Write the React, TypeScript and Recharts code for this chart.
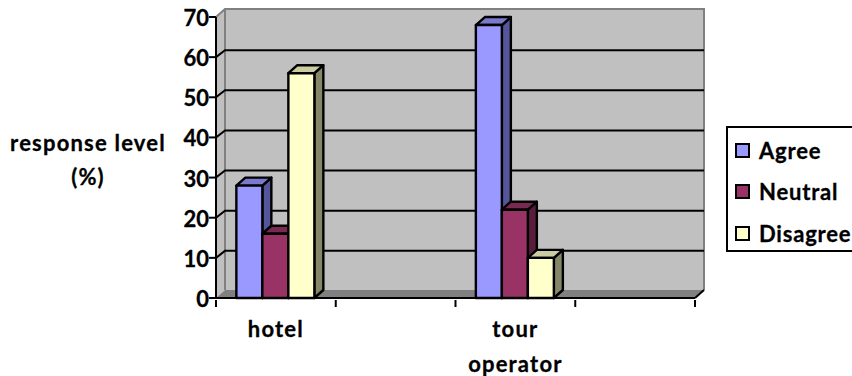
import React from "react";
import { BarChart, Bar, XAxis, YAxis, CartesianGrid, Legend, Label } from "recharts";

const categories = ["hotel", "", "tour operator", " "];
const agree = [28, null, 68, null];
const neutral = [16, null, 22, null];
const disagree = [56, null, 10, null];
const yTicks = [0, 10, 20, 30, 40, 50, 60, 70];

const rows = categories.map((name, i) => ({
  name,
  Agree: agree[i],
  Neutral: neutral[i],
  Disagree: disagree[i],
}));

const FONT = "Lato, 'Open Sans', sans-serif";
const DEPTH = 8;
const SIDE = 9;
const BLACK_LINE = { stroke: "#000", strokeWidth: 2 };

const palette: Record<string, { front: string; top: string; side: string }> = {
  Agree: { front: "#9999ff", top: "#7a7acc", side: "#555599" },
  Neutral: { front: "#993366", top: "#7a2952", side: "#571d3a" },
  Disagree: { front: "#ffffcc", top: "#cccca3", side: "#868668" },
};

// Extruded column: front face, top face and right side face.
function Column3D(props: any) {
  const { x, y, width, height, dataKey } = props;
  if (!height || height <= 0) return null;
  const c = palette[dataKey];
  const common = { stroke: "#000", strokeWidth: 2.4, strokeLinejoin: "round" as const };
  return (
    <g>
      <polygon {...common} fill={c.side} points={`${x + width},${y} ${x + width + SIDE},${y - DEPTH} ${x + width + SIDE},${y + height - DEPTH} ${x + width},${y + height}`} />
      <polygon {...common} fill={c.top} points={`${x},${y} ${x + SIDE},${y - DEPTH} ${x + width + SIDE},${y - DEPTH} ${x + width},${y}`} />
      <rect {...common} fill={c.front} x={x} y={y} width={width} height={height} />
    </g>
  );
}

// Back wall, side wall and floor of the 3D chart box.
function Walls({ x, y, width, height }: any) {
  const b = y + height;
  const r = x + width;
  return (
    <g>
      <polygon fill="#c0c0c0" points={`${x},${y} ${x + SIDE},${y - DEPTH} ${r + SIDE},${y - DEPTH} ${r + SIDE},${b - DEPTH} ${x + SIDE},${b - DEPTH} ${x},${b}`} />
      <polygon fill="#808080" points={`${x},${b} ${x + SIDE},${b - DEPTH} ${r + SIDE},${b - DEPTH} ${r},${b}`} />
      <polyline fill="none" stroke="#808080" strokeWidth={2} points={`${x},${y} ${x + SIDE},${y - DEPTH} ${r + SIDE},${y - DEPTH} ${r + SIDE},${b - DEPTH}`} />
      <line x1={x + SIDE} y1={y - DEPTH} x2={x + SIDE} y2={b - DEPTH} stroke="#808080" strokeWidth={2} />
      <line x1={r} y1={b} x2={r + SIDE} y2={b - DEPTH} {...BLACK_LINE} />
    </g>
  );
}

// Grid line running along the side wall and across the back wall; the walls go
// underneath the first one so every line stays above them.
function GridLine(props: any) {
  const { x1, x2, y1, index, x, y, width, height } = props;
  const atEdge = Math.abs(y1 - y) < 1 || Math.abs(y1 - (y + height)) < 1;
  return (
    <g>
      {index === 0 && <Walls x={x} y={y} width={width} height={height} />}
      {!atEdge && (
        <polyline fill="none" {...BLACK_LINE} points={`${x1},${y1} ${x1 + SIDE},${y1 - DEPTH + 1} ${x2 + SIDE},${y1 - DEPTH + 1}`} />
      )}
    </g>
  );
}

function CategoryTick(props: any) {
  const { x, y, payload, index, visibleTicksCount } = props;
  const lines = String(payload.value).trim().split(" ").filter(Boolean);
  const half = payload.offset ?? 0;
  const axisY = y - 7;
  return (
    <g>
      <line x1={x - half} x2={x - half} y1={axisY} y2={axisY + 7} {...BLACK_LINE} />
      {index === visibleTicksCount - 1 && (
        <line x1={x + half} x2={x + half} y1={axisY} y2={axisY + 7} {...BLACK_LINE} />
      )}
      <text fontFamily={FONT} fontWeight={700} fontSize={22} letterSpacing={1.2} fill="#000" stroke="#000" strokeWidth={0.3} textAnchor="middle">
        {lines.map((line, i) => (
          <tspan key={line} x={x} y={y + 30 + i * 35}>{line}</tspan>
        ))}
      </text>
    </g>
  );
}

function ValueTick({ x, y, payload }: any) {
  return (
    <text x={x} y={y + 9} fontFamily={FONT} fontWeight={700} fontSize={22} fill="#000" stroke="#000" strokeWidth={0.3} textAnchor="end">
      {payload.value}
    </text>
  );
}

function AxisTitle() {
  return (
    <text fontFamily={FONT} fontWeight={700} fontSize={22} letterSpacing={1.2} fill="#000" stroke="#000" strokeWidth={0.3} textAnchor="middle">
      <tspan x={88} y={151}>response level</tspan>
      <tspan x={88} y={185}>(%)</tspan>
    </text>
  );
}

function LegendBox({ payload }: any) {
  return (
    <div style={{ boxSizing: "border-box", width: 128, height: 126, border: "2px solid #000", background: "#fff", position: "relative", fontFamily: FONT, fontWeight: 700, fontSize: 22, letterSpacing: 0.8, color: "#000", WebkitTextStroke: "0.3px #000" }}>
      {(payload || []).map((item: any, i: number) => (
        <div key={item.value} style={{ position: "absolute", left: 7, top: 12 + i * 41.5, height: 20, display: "flex", alignItems: "center", whiteSpace: "nowrap" }}>
          <span style={{ boxSizing: "border-box", width: 15, height: 15, border: "2px solid #000", background: palette[item.value].front, marginRight: 9 }} />
          <span>{item.value}</span>
        </div>
      ))}
    </div>
  );
}

export default function App() {
  return (
    <div style={{ position: "absolute", left: 0, top: 0, width: 852, height: 376, overflow: "hidden", background: "#fff" }}>
      <BarChart
        width={852}
        height={376}
        data={rows}
        barGap={0}
        barCategoryGap="17%"
        margin={{ left: 116, right: 29, top: 17, bottom: 48 }}
      >
        <CartesianGrid vertical={false} horizontal={GridLine as any} fill="none" />
        <XAxis
          dataKey="name"
          height={30}
          interval={0}
          tick={CategoryTick as any}
          tickSize={7}
          tickLine={false}
          axisLine={BLACK_LINE}
        />
        <YAxis
          width={100}
          domain={[0, 70]}
          ticks={yTicks}
          interval={0}
          tickSize={7}
          tickMargin={0}
          axisLine={BLACK_LINE}
          tickLine={BLACK_LINE}
          tick={ValueTick as any}
        >
          <Label content={AxisTitle as any} />
        </YAxis>
        <Bar dataKey="Agree" fill={palette.Agree.front} shape={Column3D as any} isAnimationActive={false} />
        <Bar dataKey="Neutral" fill={palette.Neutral.front} shape={Column3D as any} isAnimationActive={false} />
        <Bar dataKey="Disagree" fill={palette.Disagree.front} shape={Column3D as any} isAnimationActive={false} />
        <Legend
          layout="vertical"
          align="right"
          verticalAlign="middle"
          width={128}
          itemSorter={null as any}
          content={LegendBox as any}
          wrapperStyle={{ position: "absolute", left: 726, top: 126, right: "auto", bottom: "auto", width: 128, height: 126 }}
        />
      </BarChart>
    </div>
  );
}
